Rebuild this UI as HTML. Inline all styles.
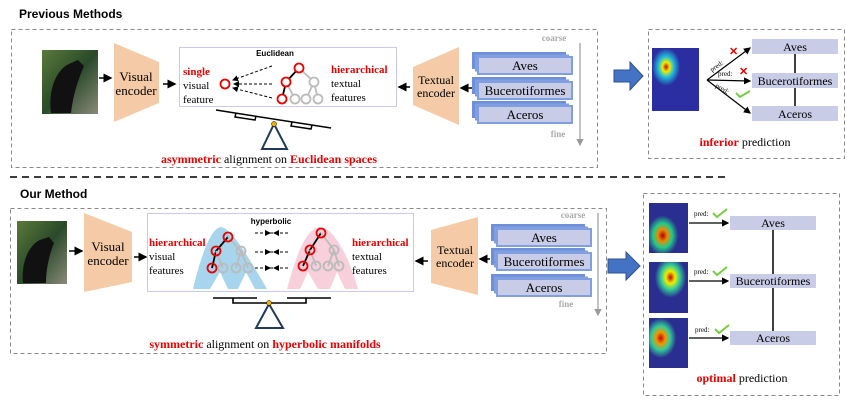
<!DOCTYPE html>
<html><head><meta charset="utf-8"><style>
html,body{margin:0;padding:0;background:#fff;}
svg{display:block;}
text{font-family:"Liberation Serif",serif;}
.s{font-family:"Liberation Sans",sans-serif;font-weight:bold;}
</style></head><body>
<svg width="847" height="409" viewBox="0 0 847 409" xmlns="http://www.w3.org/2000/svg">
<defs>
<marker id="a" markerWidth="6" markerHeight="6" refX="5" refY="3" orient="auto"><path d="M0,0L6,3L0,6z" fill="#000"/></marker>
<marker id="g" markerWidth="6" markerHeight="6" refX="5" refY="3" orient="auto"><path d="M0,0L6,3L0,6z" fill="#999"/></marker>
<radialGradient id="hm" cx="0.3" cy="0.3" r="0.3"><stop offset="0" stop-color="#c00"/><stop offset="0.25" stop-color="#ee0"/><stop offset="0.55" stop-color="#2bd"/><stop offset="1" stop-color="#2a2ea0"/></radialGradient>
<radialGradient id="hm2" cx="0.35" cy="0.65" r="0.4"><stop offset="0" stop-color="#a00"/><stop offset="0.3" stop-color="#e80"/><stop offset="0.6" stop-color="#2c8"/><stop offset="1" stop-color="#2a2e90"/></radialGradient>
<radialGradient id="hm3" cx="0.55" cy="0.3" r="0.4"><stop offset="0" stop-color="#c00"/><stop offset="0.3" stop-color="#ee0"/><stop offset="0.6" stop-color="#3c9"/><stop offset="1" stop-color="#2a2e90"/></radialGradient>
<radialGradient id="hm4" cx="0.3" cy="0.4" r="0.4"><stop offset="0" stop-color="#c00"/><stop offset="0.3" stop-color="#e90"/><stop offset="0.6" stop-color="#3c9"/><stop offset="1" stop-color="#2a2e90"/></radialGradient>
<linearGradient id="bird" x1="0" y1="0" x2="1" y2="1"><stop offset="0" stop-color="#5a7a3a"/><stop offset="0.5" stop-color="#2a4a2a"/><stop offset="1" stop-color="#8a8a7a"/></linearGradient>
<g id="tb"><rect x="-6" y="-5" width="94" height="17" fill="#6f8fd8"/><rect x="-3" y="-2.5" width="94" height="17" fill="#7f9fe0"/><rect x="0" y="0" width="94" height="17" fill="#c8cce6" stroke="#7f9fe0" stroke-width="2"/></g>
</defs>

<!-- TOP -->
<text x="19" y="18" class="s" font-size="12">Previous Methods</text>
<rect x="11.5" y="29.5" width="586" height="138" fill="none" stroke="#888" stroke-dasharray="4,3"/>
<rect x="42" y="50" width="56" height="64" fill="url(#bird)"/>
<path d="M51,113 C48,90 56,70 69,64 L78,60 L84,66 C78,80 73,95 71,113z" fill="#111"/>
<line x1="99" y1="78" x2="111" y2="78" stroke="#000" stroke-width="1.5" marker-end="url(#a)"/>
<path d="M114,43 L159,62 L159,103 L114,122z" fill="#f5cba7"/>
<text x="136" y="81" font-size="13" text-anchor="middle">Visual</text>
<text x="136" y="95" font-size="13" text-anchor="middle">encoder</text>
<line x1="163" y1="84" x2="175" y2="84" stroke="#000" stroke-width="1.5" marker-end="url(#a)"/>
<rect x="179.5" y="47.5" width="217" height="59" fill="#fff" stroke="#c8c8f0"/>
<text x="275" y="56" class="s" font-size="8" text-anchor="middle">Euclidean</text>
<text x="183" y="75" font-size="11" fill="#e00" font-weight="bold">single</text>
<text x="183" y="89" font-size="11">visual</text>
<text x="183" y="103" font-size="11">feature</text>
<circle cx="225" cy="84" r="4.5" fill="none" stroke="#e00" stroke-width="1.8"/>
<g stroke="#000" stroke-dasharray="3,2" marker-end="url(#a)"><line x1="272" y1="66" x2="233" y2="80"/><line x1="272" y1="84" x2="234" y2="84"/><line x1="272" y1="98" x2="233" y2="88"/></g>
<g fill="none" stroke-width="1.8">
<path d="M299,68 L286,82 L282,99" stroke="#000"/>
<path d="M299,68 L314,82 M314,82 L306,99 M314,82 L318,99 M286,82 L295,99" stroke="#bbb"/>
<circle cx="314" cy="82" r="4.5" stroke="#bbb" fill="#fff"/><circle cx="295" cy="99" r="4.5" stroke="#bbb" fill="#fff"/><circle cx="306" cy="99" r="4.5" stroke="#bbb" fill="#fff"/><circle cx="318" cy="99" r="4.5" stroke="#bbb" fill="#fff"/>
<circle cx="299" cy="68" r="4.5" stroke="#e00" fill="#fff"/><circle cx="286" cy="82" r="4.5" stroke="#e00" fill="#fff"/><circle cx="282" cy="99" r="4.5" stroke="#e00" fill="#fff"/>
</g>
<text x="331" y="73" font-size="11" fill="#e00" font-weight="bold">hierarchical</text>
<text x="331" y="87" font-size="11">textual</text>
<text x="331" y="101" font-size="11">features</text>
<g stroke="#000" stroke-width="1.5" fill="none">
<line x1="216" y1="110" x2="331" y2="128"/><path d="M236,113 L235,117 L255,120 L256,116"/><path d="M292,122 L291,126 L311,129 L312,125"/>
</g>
<path d="M274,124 L262,149 L287,149z" fill="#fff" stroke="#1f3a5a" stroke-width="2"/>
<circle cx="274" cy="124" r="2.5" fill="#f0b000" stroke="#000" stroke-width="0.5"/>
<text x="269" y="163" font-size="12" text-anchor="middle"><tspan fill="#e00" font-weight="bold">asymmetric</tspan> alignment on <tspan fill="#e00" font-weight="bold">Euclidean spaces</tspan></text>
<line x1="410" y1="87" x2="399" y2="87" stroke="#000" stroke-width="1.5" marker-end="url(#a)"/>
<path d="M413,67 L459,47 L459,125 L413,105z" fill="#f5cba7"/>
<text x="436" y="84" font-size="12" text-anchor="middle">Textual</text>
<text x="436" y="97" font-size="12" text-anchor="middle">encoder</text>
<line x1="472" y1="88" x2="461" y2="88" stroke="#000" stroke-width="1.5" marker-end="url(#a)"/>
<use href="#tb" x="478" y="57"/><text x="525" y="70" font-size="13" text-anchor="middle">Aves</text>
<use href="#tb" x="478" y="82"/><text x="525" y="95" font-size="13" text-anchor="middle">Bucerotiformes</text>
<use href="#tb" x="478" y="106"/><text x="525" y="119" font-size="13" text-anchor="middle">Aceros</text>
<text x="554" y="41" font-size="9" fill="#aaa" font-weight="bold" text-anchor="middle">coarse</text>
<text x="558" y="137" font-size="9" fill="#aaa" font-weight="bold" text-anchor="middle">fine</text>
<line x1="580" y1="43" x2="580" y2="145" stroke="#999" stroke-width="1.2" marker-end="url(#g)"/>

<line x1="10" y1="177" x2="730" y2="177" stroke="#222" stroke-width="1.8" stroke-dasharray="7,5"/>

<path d="M614,70 L630,70 L630,62 L643,76 L630,90 L630,82 L614,82z" fill="#4472c4" stroke="#2f528f"/>
<rect x="648.5" y="29.5" width="196" height="129" fill="none" stroke="#888" stroke-dasharray="4,3"/>
<rect x="652" y="48" width="47" height="63" fill="url(#hm)"/>
<rect x="752" y="39" width="86" height="15" fill="#c8cce6"/><text x="795" y="51" font-size="12" text-anchor="middle">Aves</text>
<rect x="752" y="73" width="86" height="15" fill="#c8cce6"/><text x="795" y="85" font-size="12" text-anchor="middle">Bucerotiformes</text>
<rect x="752" y="106" width="86" height="15" fill="#c8cce6"/><text x="795" y="118" font-size="12" text-anchor="middle">Aceros</text>
<line x1="795" y1="54" x2="795" y2="73" stroke="#000" stroke-width="1.5"/><line x1="795" y1="88" x2="795" y2="106" stroke="#000" stroke-width="1.5"/>
<g stroke="#000" stroke-width="1.2"><line x1="707" y1="80" x2="750" y2="48" marker-end="url(#a)"/><line x1="707" y1="80" x2="750" y2="81" marker-end="url(#a)"/><line x1="707" y1="80" x2="750" y2="113" marker-end="url(#a)"/></g>
<text x="712" y="72" font-size="7" transform="rotate(-35 712 72)">pred:</text>
<text x="718" y="76" font-size="7">pred:</text>
<text x="715" y="87" font-size="7" transform="rotate(30 715 87)">pred:</text>
<text x="729" y="55" font-size="11" fill="#e00" font-weight="bold">✕</text>
<text x="739" y="75" font-size="11" fill="#e00" font-weight="bold">✕</text>
<path d="M736,93 L740,97 L750,91" fill="none" stroke="#7c4" stroke-width="2"/>
<text x="745" y="146" font-size="12" text-anchor="middle"><tspan fill="#e00" font-weight="bold">inferior</tspan> prediction</text>

<!-- BOTTOM -->
<text x="20" y="198" class="s" font-size="12">Our Method</text>
<rect x="10.5" y="208.5" width="596" height="145" fill="none" stroke="#888" stroke-dasharray="4,3"/>
<rect x="17" y="221" width="50" height="63" fill="url(#bird)"/>
<path d="M23,283 C21,262 29,245 40,240 L49,237 L54,243 C49,255 46,270 46,283z" fill="#111"/>
<line x1="69" y1="251" x2="82" y2="251" stroke="#000" stroke-width="1.5" marker-end="url(#a)"/>
<path d="M84,213 L132,232 L132,282 L84,292z" fill="#f5cba7"/>
<text x="108" y="251" font-size="13" text-anchor="middle">Visual</text>
<text x="108" y="265" font-size="13" text-anchor="middle">encoder</text>
<line x1="134" y1="257" x2="146" y2="257" stroke="#000" stroke-width="1.5" marker-end="url(#a)"/>
<rect x="147.5" y="213.5" width="266" height="78" fill="#fff" stroke="#c8c8f0"/>
<text x="271" y="224" class="s" font-size="8" text-anchor="middle">hyperbolic</text>
<path d="M193,289 C200,260 210,228 221,227 C232,228 250,260 267,289 L255,289 L246,272 L238,289 L228,289 L220,272 L210,289z" fill="#a7d5ee"/>
<path d="M287,289 C295,260 305,228 320,227 C335,228 350,260 358,289 L345,289 L337,272 L330,289 L318,289 L308,272 L300,289z" fill="#f8d0dc"/>
<text x="149" y="246" font-size="11" fill="#e00" font-weight="bold">hierarchical</text>
<text x="149" y="260" font-size="11">visual</text>
<text x="149" y="274" font-size="11">features</text>
<g fill="none" stroke-width="1.8">
<path d="M228,237 L216,251 L212,268" stroke="#000"/>
<path d="M228,237 L241,251 M241,251 L236,268 M241,251 L248,268 M216,251 L223,268" stroke="#bbb"/>
<circle cx="241" cy="251" r="4.5" stroke="#bbb"/><circle cx="223" cy="268" r="4.5" stroke="#bbb"/><circle cx="236" cy="268" r="4.5" stroke="#bbb"/><circle cx="248" cy="268" r="4.5" stroke="#bbb"/>
<circle cx="228" cy="237" r="4.5" stroke="#e00"/><circle cx="216" cy="251" r="4.5" stroke="#e00"/><circle cx="212" cy="268" r="4.5" stroke="#e00"/>
<path d="M321,233 L310,250 L303,266" stroke="#000"/>
<path d="M321,233 L334,250 M334,250 L328,266 M334,250 L339,266 M310,250 L316,266" stroke="#bbb"/>
<circle cx="334" cy="250" r="4.5" stroke="#bbb"/><circle cx="316" cy="266" r="4.5" stroke="#bbb"/><circle cx="328" cy="266" r="4.5" stroke="#bbb"/><circle cx="339" cy="266" r="4.5" stroke="#bbb"/>
<circle cx="321" cy="233" r="4.5" stroke="#e00"/><circle cx="310" cy="250" r="4.5" stroke="#e00"/><circle cx="303" cy="266" r="4.5" stroke="#e00"/>
</g>
<g stroke="#000" stroke-dasharray="3,2"><line x1="255" y1="233" x2="289" y2="233"/><line x1="255" y1="252" x2="289" y2="252"/><line x1="255" y1="268" x2="289" y2="268"/></g>
<g fill="#000"><path d="M265,230 L271,233 L265,236z"/><path d="M279,230 L273,233 L279,236z"/><path d="M265,249 L271,252 L265,255z"/><path d="M279,249 L273,252 L279,255z"/><path d="M265,265 L271,268 L265,271z"/><path d="M279,265 L273,268 L279,271z"/></g>
<text x="352" y="246" font-size="11" fill="#e00" font-weight="bold">hierarchical</text>
<text x="352" y="260" font-size="11">textual</text>
<text x="352" y="274" font-size="11">features</text>
<g stroke="#000" stroke-width="1.6" fill="none">
<line x1="213" y1="298" x2="257" y2="298"/><line x1="287" y1="298" x2="331" y2="298"/>
<path d="M233,298 L233,303 L306,303 L306,298"/>
</g>
<path d="M269,304 L256,328 L283,328z" fill="#fff" stroke="#1f3a5a" stroke-width="2"/>
<circle cx="269" cy="303" r="2.5" fill="#f0b000" stroke="#000" stroke-width="0.5"/>
<text x="265" y="348" font-size="12" text-anchor="middle"><tspan fill="#e00" font-weight="bold">symmetric</tspan> alignment on <tspan fill="#e00" font-weight="bold">hyperbolic manifolds</tspan></text>
<line x1="428" y1="261" x2="416" y2="261" stroke="#000" stroke-width="1.5" marker-end="url(#a)"/>
<path d="M431,230 L478,217 L478,295 L431,283z" fill="#f5cba7"/>
<text x="455" y="254" font-size="12" text-anchor="middle">Textual</text>
<text x="455" y="267" font-size="12" text-anchor="middle">encoder</text>
<line x1="490" y1="259" x2="480" y2="259" stroke="#000" stroke-width="1.5" marker-end="url(#a)"/>
<use href="#tb" x="497" y="229"/><text x="544" y="242" font-size="13" text-anchor="middle">Aves</text>
<use href="#tb" x="497" y="253"/><text x="544" y="266" font-size="13" text-anchor="middle">Bucerotiformes</text>
<use href="#tb" x="497" y="279"/><text x="544" y="292" font-size="13" text-anchor="middle">Aceros</text>
<text x="573" y="218" font-size="9" fill="#aaa" font-weight="bold" text-anchor="middle">coarse</text>
<text x="566" y="307" font-size="9" fill="#aaa" font-weight="bold" text-anchor="middle">fine</text>
<line x1="598" y1="213" x2="598" y2="315" stroke="#999" stroke-width="1.2" marker-end="url(#g)"/>

<path d="M608,259 L626,259 L626,252 L640,266 L626,280 L626,273 L608,273z" fill="#4472c4" stroke="#2f528f"/>
<rect x="643.5" y="193.5" width="196" height="202" fill="none" stroke="#888" stroke-dasharray="4,3"/>
<rect x="649" y="203" width="39" height="50" fill="url(#hm2)"/>
<rect x="649" y="262" width="39" height="51" fill="url(#hm3)"/>
<rect x="649" y="318" width="39" height="50" fill="url(#hm4)"/>
<rect x="730" y="216" width="86" height="14" fill="#c8cce6"/><text x="773" y="227" font-size="12" text-anchor="middle">Aves</text>
<rect x="730" y="274" width="86" height="14" fill="#c8cce6"/><text x="773" y="285" font-size="12" text-anchor="middle">Bucerotiformes</text>
<rect x="730" y="331" width="86" height="14" fill="#c8cce6"/><text x="773" y="342" font-size="12" text-anchor="middle">Aceros</text>
<line x1="773" y1="230" x2="773" y2="274" stroke="#000" stroke-width="1.5"/><line x1="773" y1="288" x2="773" y2="331" stroke="#000" stroke-width="1.5"/>
<g stroke="#000" stroke-width="1.2"><line x1="689" y1="223" x2="728" y2="223" marker-end="url(#a)"/><line x1="689" y1="281" x2="728" y2="281" marker-end="url(#a)"/><line x1="689" y1="338" x2="728" y2="338" marker-end="url(#a)"/></g>
<text x="694" y="216" font-size="7">pred:</text><text x="694" y="274" font-size="7">pred:</text><text x="695" y="332" font-size="7">pred:</text>
<g fill="none" stroke="#7c4" stroke-width="2"><path d="M713,213 L717,217 L727,209"/><path d="M713,271 L717,275 L727,267"/><path d="M715,329 L719,333 L729,325"/></g>
<text x="742" y="382" font-size="12" text-anchor="middle"><tspan fill="#e00" font-weight="bold">optimal</tspan> prediction</text>
</svg>
</body></html>
